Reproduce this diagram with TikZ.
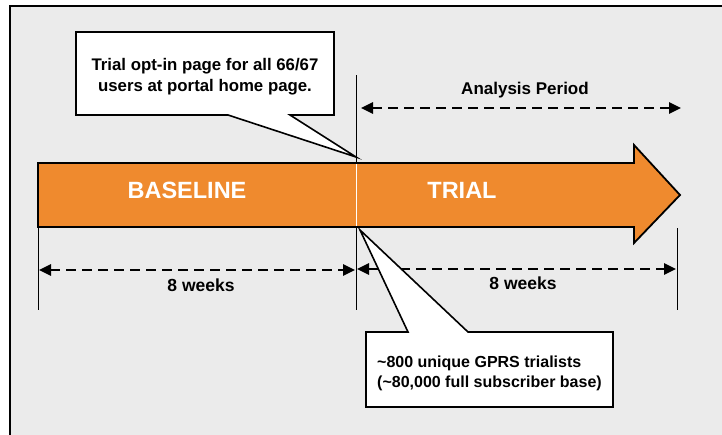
\documentclass[tikz,border=0pt]{standalone}
\usepackage{fontspec}
\setmainfont{Liberation Sans}
\usetikzlibrary{arrows.meta}
\definecolor{panelgray}{HTML}{EBEBEB}
\definecolor{barorange}{HTML}{EF8A2E}
\tikzset{
  lbl/.style={font=\bfseries\fontsize{17}{20}\selectfont, text=black, inner sep=0pt},
  barlbl/.style={font=\bfseries\fontsize{23.5}{26}\selectfont, text=white},
  span/.style={line width=2.6pt, dash pattern=on 10pt off 6pt,
    {Triangle[length=12pt,width=11pt]}-{Triangle[length=12pt,width=11pt]}},
  tick/.style={line width=0.9pt},
  callout/.style={fill=white, draw=black, line width=1.6pt, line join=miter},
}
\begin{document}
\begin{tikzpicture}[x=1pt,y=-1pt]
\useasboundingbox (0,0) rectangle (722,434);
% panel
\fill[white] (0,0) rectangle (722,434);
\fill[panelgray] (10,6) rectangle (725,440);
\draw[line width=1.2pt] (10,440) -- (10,6) -- (725,6);

% tick lines
\coordinate (t0top) at (38,227);  \coordinate (t0bot) at (38,310);
\coordinate (t1top) at (356,75);  \coordinate (t1bot) at (356,310);
\coordinate (t2top) at (677,228); \coordinate (t2bot) at (677,310);
\draw[tick] (t0top) -- (t0bot);
\draw[tick] (t1top) -- (t1bot);
\draw[tick] (t2top) -- (t2bot);

% main timeline arrow
\draw[fill=barorange, line width=1.8pt, line join=miter]
  (38,163) -- (634,163) -- (634,145) -- (680,195) -- (634,243) -- (634,227) -- (38,227) -- cycle;
\draw[white, line width=1pt] (356,164) -- (356,226);
\node[barlbl] (base) at (187,190) {BASELINE};
\node[barlbl] (trial) at (462,190) {TRIAL};

% spans
\coordinate (s1a) at (39,270);  \coordinate (s1b) at (355,270);
\coordinate (s2a) at (357,269); \coordinate (s2b) at (676,269);
\coordinate (s3a) at (361,108); \coordinate (s3b) at (681,108);
\draw[span] (s1a) -- (s1b);
\draw[span] (s2a) -- (s2b);
\draw[span] (s3a) -- (s3b);
\node[lbl, font=\bfseries\fontsize{17.5}{20}\selectfont] (w1) at (201,285) {8 weeks};
\node[lbl, font=\bfseries\fontsize{17.5}{20}\selectfont] (w2) at (523,283) {8 weeks};
\node[lbl] (ap) at (525,90) {Analysis Period};

% callouts
\coordinate (p1) at (356,157);
\draw[callout] (76,32) -- (334,32) -- (334,115) -- (290,115) -- (p1) -- (228,115) -- (76,115) -- cycle;
\node[lbl, align=center, font=\bfseries\fontsize{16.8}{21}\selectfont] (optin) at (205,77)
  {Trial opt-in page for all 66/67\\users at portal home page.};

\coordinate (p2) at (360,230);
\draw[callout] (366,332) -- (408,332) -- (p2) -- (468,332) -- (613,332) -- (613,407) -- (366,407) -- cycle;
\node[lbl, align=left, anchor=west, font=\bfseries\fontsize{16}{20}\selectfont] (gprs) at (377,373)
  {\textasciitilde800 unique GPRS trialists\\(\textasciitilde80,000 full subscriber base)};
\end{tikzpicture}
\end{document}
